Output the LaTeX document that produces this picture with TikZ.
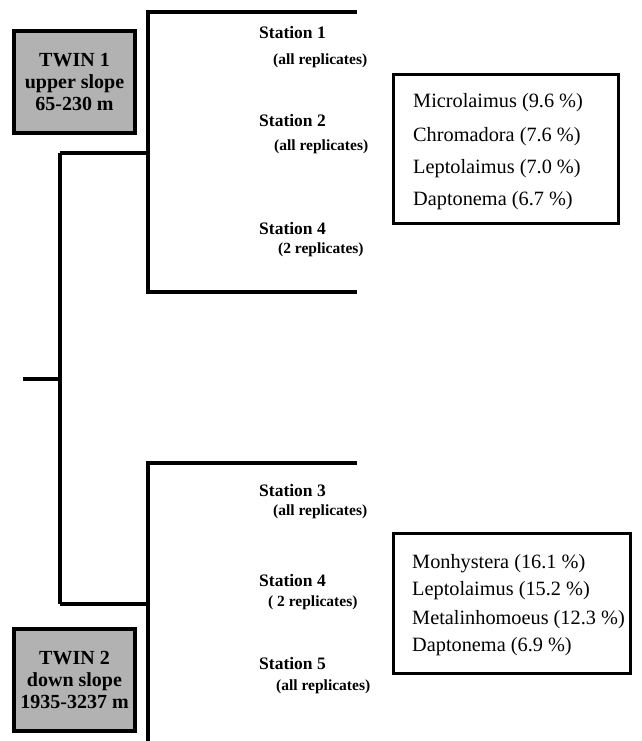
\documentclass[tikz,border=0pt]{standalone}
\usepackage{fontspec}
\setmainfont{Liberation Serif}
\begin{document}
\begin{tikzpicture}[x=1pt,y=-1pt,
  branch/.style={line width=3.2pt,line cap=butt,line join=miter},
  twinbox/.style={draw,line width=4pt,fill=black!30,minimum width=121pt,minimum height=102pt,inner sep=0pt,align=center,
    font=\bfseries\fontsize{20}{22}\selectfont},
  listbox/.style={draw,line width=3pt,inner sep=0pt},
  stat/.style={anchor=base west,inner sep=0pt,font=\bfseries\fontsize{17.5}{20}\selectfont},
  repl/.style={anchor=base west,inner sep=0pt,font=\bfseries\fontsize{15.5}{17}\selectfont},
  taxon/.style={anchor=base west,inner sep=0pt,font=\fontsize{20.3}{24}\selectfont}]
\useasboundingbox (0,0) rectangle (641,741);
% tree coordinates
\coordinate (r0) at (23,379);
\coordinate (r1) at (60,379);
\coordinate (a) at (60,153);
\coordinate (b) at (60,604);
\coordinate (a1) at (148,153);
\coordinate (a2) at (148,12);
\coordinate (a3) at (148,292);
\coordinate (a2e) at (357,12);
\coordinate (a3e) at (357,292);
\coordinate (b1) at (148,604);
\coordinate (b2) at (148,463);
\coordinate (b3) at (148,741);
\coordinate (b2e) at (357,463);
\draw[branch] (r0) -- (r1);
\draw[branch] (a) -- (b);
\draw[branch] (a) -- (a1);
\draw[branch] (b) -- (b1);
\draw[branch] (a2e) -- (a2) -- (a3) -- (a3e);
\draw[branch] (b2e) -- (b2) -- (b3);
% twin boxes
\node[twinbox] (t1) at (74.5,82) {TWIN 1\\upper slope\\65-230 m};
\node[twinbox] (t2) at (74.5,679.5) {TWIN 2\\down slope\\1935-3237 m};
% stations
\node[stat] (s1) at (259,39) {Station 1};
\node[repl] (s1r) at (273,65) {(all replicates)};
\node[stat] (s2) at (259,126) {Station 2};
\node[repl] (s2r) at (274,150) {(all replicates)};
\node[stat] (s4) at (259,234) {Station 4};
\node[repl] (s4r) at (278,253) {(2 replicates)};
\node[stat] (s3) at (259,496) {Station 3};
\node[repl] (s3r) at (273,515) {(all replicates)};
\node[stat] (s4b) at (259,586) {Station 4};
\node[repl] (s4br) at (268,606) {( 2 replicates)};
\node[stat] (s5) at (259,669) {Station 5};
\node[repl] (s5r) at (276,690) {(all replicates)};
% list boxes
\node[listbox,minimum width=225pt,minimum height=148pt] (L1) at (505.5,149) {};
\node[taxon] (m1) at (413,108) {Microlaimus (9.6 \%)};
\node[taxon] (m2) at (413,141) {Chromadora (7.6 \%)};
\node[taxon] (m3) at (413,173) {Leptolaimus (7.0 \%)};
\node[taxon] (m4) at (413,205) {Daptonema (6.7 \%)};
\node[listbox,minimum width=237pt,minimum height=140pt] (L2) at (511.5,603) {};
\node[taxon] (n1) at (412,568) {Monhystera (16.1 \%)};
\node[taxon] (n2) at (412,595) {Leptolaimus (15.2 \%)};
\node[taxon] (n3) at (412,624) {Metalinhomoeus (12.3 \%)};
\node[taxon] (n4) at (412,651) {Daptonema (6.9 \%)};
\end{tikzpicture}
\end{document}
